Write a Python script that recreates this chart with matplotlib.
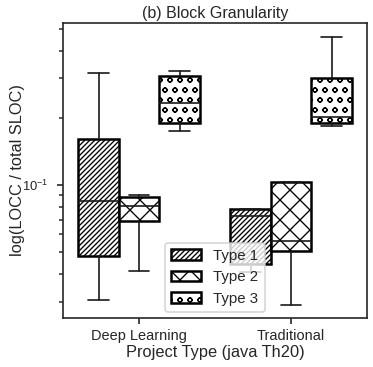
import matplotlib

matplotlib.use("Agg")
import matplotlib.pyplot as plt
import seaborn as sns
from matplotlib.patches import Patch
from matplotlib.ticker import NullFormatter

# five-number summaries (log-scale y axis)
project_types = ["Deep Learning", "Traditional"]
type_labels = ["Type 1", "Type 2", "Type 3"]
type_hatches = ["////////", "xx", "oo"]

whisker_low = [[0.0306, 0.0412, 0.1744], [0.0408, 0.0290, 0.1837]]
q1_values = [[0.0481, 0.0690, 0.1894], [0.0443, 0.0507, 0.1894]]
median_values = [[0.0848, 0.0806, 0.2328], [0.0727, 0.0562, 0.2015]]
q3_values = [[0.1607, 0.0884, 0.3074], [0.0781, 0.1031, 0.3010]]
whisker_high = [[0.3170, 0.0902, 0.3236], [0.0781, 0.1031, 0.4592]]

sns.set_style("ticks")
plt.rcParams["font.family"] = ["Liberation Sans", "DejaVu Sans"]
plt.rcParams["mathtext.fontset"] = "custom"
plt.rcParams["mathtext.rm"] = "Liberation Sans"
plt.rcParams["mathtext.it"] = "Liberation Sans:italic"
plt.rcParams["hatch.linewidth"] = 0.8

DPI = 120
fig = plt.figure(figsize=(373 / DPI, 367 / DPI), dpi=DPI)
ax = fig.add_axes([0.169, 0.134, 0.815, 0.803])

n_types = len(type_labels)
box_width = 0.8 / n_types
for g, group in enumerate(project_types):
    for t in range(n_types):
        stats = [
            {
                "whislo": whisker_low[g][t],
                "q1": q1_values[g][t],
                "med": median_values[g][t],
                "q3": q3_values[g][t],
                "whishi": whisker_high[g][t],
                "fliers": [],
            }
        ]
        pos = g + (t - (n_types - 1) / 2) * box_width
        art = ax.bxp(
            stats,
            positions=[pos],
            widths=[box_width],
            patch_artist=True,
            showfliers=False,
            boxprops=dict(facecolor="white", edgecolor="black", linewidth=1.5),
            whiskerprops=dict(color="0.1", linewidth=1.0),
            capprops=dict(color="0.1", linewidth=1.0),
            medianprops=dict(color="0.1", linewidth=1.0),
            manage_ticks=False,
        )
        for box in art["boxes"]:
            box.set_hatch(type_hatches[t])

ax.set_yscale("log")
ax.set_ylim(0.0254, 0.5306)
ax.set_xlim(-0.5, 1.5)
ax.yaxis.set_minor_formatter(NullFormatter())
ax.set_xticks(range(len(project_types)))
ax.set_xticklabels(project_types, fontsize=8.7)
ax.tick_params(axis="y", labelsize=7.8, pad=5)
ax.tick_params(axis="both", which="major", length=3.5, width=1)
ax.tick_params(axis="y", which="minor", length=2.5, width=0.9)
for spine in ax.spines.values():
    spine.set_linewidth(1.0)
    spine.set_color("0.15")

ax.set_title("(b) Block Granularity", fontsize=9.6, pad=3)
ax.set_xlabel("Project Type (java Th20)", fontsize=9.8, labelpad=1)
ax.set_ylabel("log(LOCC / total SLOC)", fontsize=9.8)
ax.yaxis.set_label_coords(-0.126, 0.5)

handles = [
    Patch(facecolor="white", edgecolor="black", linewidth=1.5, hatch=h, label=lab)
    for h, lab in zip(type_hatches, type_labels)
]
ax.legend(handles=handles, loc="lower center", fontsize=9, borderaxespad=0.4)

fig.savefig("out.png", dpi=DPI)
